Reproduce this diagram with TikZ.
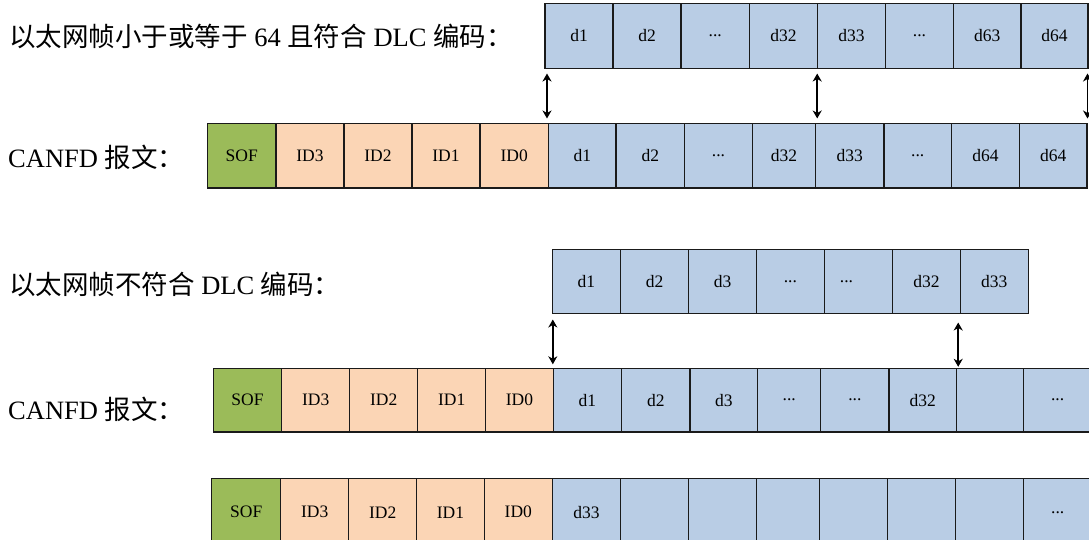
\documentclass[tikz,border=0pt]{standalone}
\usepackage{fontspec}
\setmainfont{Liberation Serif}
\newfontfamily\cjk{Noto Sans CJK SC}
\usetikzlibrary{arrows.meta}
\definecolor{dblue}{HTML}{B9CDE5}
\definecolor{idorange}{HTML}{FBD5B5}
\definecolor{sofgreen}{HTML}{9BBB59}
\definecolor{edge}{HTML}{1A1A1A}
\tikzset{
  cellst/.style={draw=edge, line width=1.2pt, inner sep=0pt, outer sep=0pt,
    font=\fontsize{17.5}{20}\selectfont},
  datacell/.style={cellst, fill=dblue},
  idcell/.style={cellst, fill=idorange},
  sofcell/.style={cellst, fill=sofgreen},
  lbl/.style={anchor=west, inner sep=0pt, font=\fontsize{26.5}{30}\selectfont},
  celltext/.style={inner sep=0pt, font=\fontsize{17.5}{20}\selectfont},
  dbl/.style={{Stealth[length=8pt,width=9pt,inset=2.5pt]}-{Stealth[length=8pt,width=9pt,inset=2.5pt]}, line width=1.5pt, black}
}
\newcommand{\mkcell}[7]{%
  \node[#6, minimum width={(#3)-(#2)}, minimum height={(#5)-(#4)}] (#1)
    at ({((#2)+(#3))/2},{((#4)+(#5))/2}) {#7};}
\begin{document}
\begin{tikzpicture}[x=1pt,y=-1pt]
\useasboundingbox (0,0) rectangle (1089,540);
\clip (0,0) rectangle (1089,540);
\fill[white] (0,0) rectangle (1089,540);

% labels
\node[lbl] (lab1) at (9,36) {{\cjk 以太网帧小于或等于} 64 {\cjk 且符合} DLC {\cjk 编码：}};
\node[lbl] (lab2) at (8,157) {CANFD {\cjk 报文：}};
\node[lbl] (lab3) at (9,284) {{\cjk 以太网帧不符合} DLC {\cjk 编码：}};
\node[lbl] (lab4) at (8,409) {CANFD {\cjk 报文：}};

% row 1
\def\ya{3.5}\def\yb{68.5}
\mkcell{a1}{545}{613}{\ya}{\yb}{datacell}{d1}
\mkcell{a2}{613}{681}{\ya}{\yb}{datacell}{d2}
\mkcell{a3}{681}{749.5}{\ya}{\yb}{datacell}{...}
\mkcell{a4}{749.5}{817.5}{\ya}{\yb}{datacell}{d32}
\mkcell{a5}{817.5}{885.5}{\ya}{\yb}{datacell}{d33}
\mkcell{a6}{885.5}{953.5}{\ya}{\yb}{datacell}{...}
\mkcell{a7}{953.5}{1021}{\ya}{\yb}{datacell}{d63}
\mkcell{a8}{1021}{1088}{\ya}{\yb}{datacell}{d64}

% row 2
\def\ya{123.5}\def\yb{188}
\mkcell{b1}{207.5}{276}{\ya}{\yb}{sofcell}{SOF}
\mkcell{b2}{276}{344}{\ya}{\yb}{idcell}{ID3}
\mkcell{b3}{344}{412}{\ya}{\yb}{idcell}{ID2}
\mkcell{b4}{412}{480}{\ya}{\yb}{idcell}{ID1}
\mkcell{b5}{480}{548.5}{\ya}{\yb}{idcell}{ID0}
\mkcell{b6}{548.5}{616}{\ya}{\yb}{datacell}{d1}
\mkcell{b7}{616}{684.5}{\ya}{\yb}{datacell}{d2}
\mkcell{b8}{684.5}{752.5}{\ya}{\yb}{datacell}{...}
\mkcell{b9}{752.5}{815.5}{\ya}{\yb}{datacell}{d32}
\mkcell{b10}{815.5}{884}{\ya}{\yb}{datacell}{d33}
\mkcell{b11}{884}{951.5}{\ya}{\yb}{datacell}{...}
\mkcell{b12}{951.5}{1019.5}{\ya}{\yb}{datacell}{d64}
\mkcell{b13}{1019.5}{1087}{\ya}{\yb}{datacell}{d64}

% arrows row1-row2
\draw[dbl] ([xshift=2pt,yshift=-5pt]a1.south west) -- ([xshift=2pt,yshift=5pt]a1.south west |- b6.north);
\draw[dbl] ([xshift=-0.3pt,yshift=-5pt]a5.south west) -- ([xshift=-0.3pt,yshift=5pt]a5.south west |- b10.north);
\draw[dbl] ([xshift=-0.5pt,yshift=-5pt]a8.south east) -- ([xshift=-0.5pt,yshift=5pt]a8.south east |- b13.north);

% row 3
\def\ya{249.3}\def\yb{313.5}
\mkcell{c1}{552.3}{620.5}{\ya}{\yb}{datacell}{d1}
\mkcell{c2}{620.5}{688.8}{\ya}{\yb}{datacell}{d2}
\mkcell{c3}{688.8}{756.4}{\ya}{\yb}{datacell}{d3}
\mkcell{c4}{756.4}{824.3}{\ya}{\yb}{datacell}{...}
\mkcell{c5}{824.3}{892.6}{\ya}{\yb}{datacell}{}
\node[celltext] (c5t) at ([xshift=-12pt]c5.center) {...};
\mkcell{c6}{892.6}{960.2}{\ya}{\yb}{datacell}{d32}
\mkcell{c7}{960.2}{1028.4}{\ya}{\yb}{datacell}{d33}

% row 4
\def\ya{368.3}\def\yb{432}
\mkcell{d1}{213.3}{281.7}{\ya}{\yb}{sofcell}{SOF}
\mkcell{d2}{281.7}{349.7}{\ya}{\yb}{idcell}{ID3}
\mkcell{d3}{349.7}{417.7}{\ya}{\yb}{idcell}{ID2}
\mkcell{d4}{417.7}{485.7}{\ya}{\yb}{idcell}{ID1}
\mkcell{d5}{485.7}{553.3}{\ya}{\yb}{idcell}{ID0}
\mkcell{d6}{553.3}{621.6}{\ya}{\yb}{datacell}{d1}
\mkcell{d7}{621.6}{689.9}{\ya}{\yb}{datacell}{d2}
\mkcell{d8}{689.9}{757.8}{\ya}{\yb}{datacell}{d3}
\mkcell{d9}{757.8}{820.8}{\ya}{\yb}{datacell}{...}
\mkcell{d10}{820.8}{889}{\ya}{\yb}{datacell}{...}
\mkcell{d11}{889}{956.7}{\ya}{\yb}{datacell}{d32}
\mkcell{d12}{956.7}{1023.2}{\ya}{\yb}{datacell}{}
\mkcell{d13}{1023.2}{1092}{\ya}{\yb}{datacell}{...}

% arrows row3-row4
\draw[dbl] ([xshift=0.5pt,yshift=-6pt]c1.south west) -- ([xshift=0.5pt,yshift=4pt]c1.south west |- d6.north);
\draw[dbl] ([xshift=-2pt,yshift=-9pt]c7.south west) -- ([xshift=-2pt,yshift=1.5pt]c7.south west |- d12.north);

% row 5
\def\ya{478.5}\def\yb{546}
\mkcell{e1}{211.7}{280.7}{\ya}{\yb}{sofcell}{SOF}
\mkcell{e2}{280.7}{348.7}{\ya}{\yb}{idcell}{ID3}
\mkcell{e3}{348.7}{416.7}{\ya}{\yb}{idcell}{ID2}
\mkcell{e4}{416.7}{484.3}{\ya}{\yb}{idcell}{ID1}
\mkcell{e5}{484.3}{552.3}{\ya}{\yb}{idcell}{ID0}
\mkcell{e6}{552.3}{620.5}{\ya}{\yb}{datacell}{d33}
\mkcell{e7}{620.5}{688.8}{\ya}{\yb}{datacell}{}
\mkcell{e8}{688.8}{756.4}{\ya}{\yb}{datacell}{}
\mkcell{e9}{756.4}{819.4}{\ya}{\yb}{datacell}{}
\mkcell{e10}{819.4}{887.7}{\ya}{\yb}{datacell}{}
\mkcell{e11}{887.7}{955.6}{\ya}{\yb}{datacell}{}
\mkcell{e12}{955.6}{1023.5}{\ya}{\yb}{datacell}{}
\mkcell{e13}{1023.5}{1092}{\ya}{\yb}{datacell}{...}
\end{tikzpicture}
\end{document}
